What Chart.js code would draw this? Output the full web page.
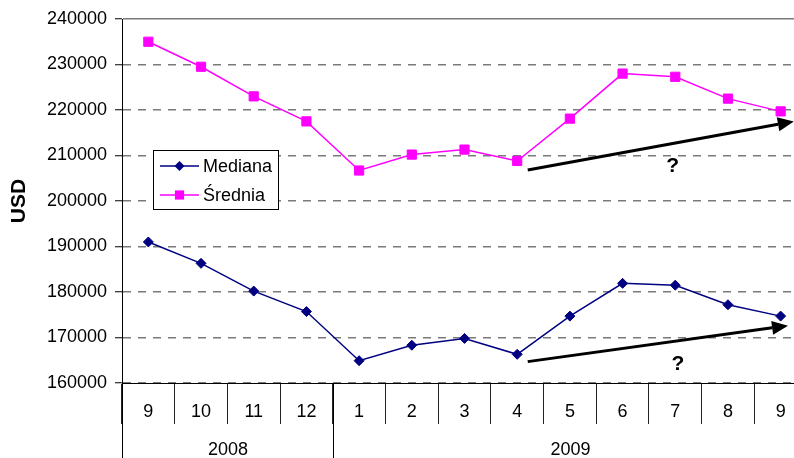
<!DOCTYPE html>
<html>
<head>
<meta charset="utf-8">
<title>Mediana i średnia cena</title>
<script src="https://cdn.jsdelivr.net/npm/chart.js@4"></script>
<style>
  html, body { margin: 0; padding: 0; background: #fff; overflow: hidden; }
  #wrap { width: 830px; height: 458px; }
</style>
</head>
<body>
<div id="wrap"><canvas id="priceChart" width="830" height="458"></canvas></div>
<script>
// months on the axis, grouped by year underneath
const months = ["9", "10", "11", "12", "1", "2", "3", "4", "5", "6", "7", "8", "9"];
const years = ["2008", "2009"];
const monthsPerYear = [4, 9];

const mediana = [191000, 186300, 180200, 175700, 164900, 168300, 169800, 166300, 174700, 181900, 181500, 177200, 174700];
const srednia = [235000, 229500, 223000, 217500, 206700, 210200, 211300, 208800, 218100, 228000, 227300, 222500, 219700];

// trend arrows (category index, USD) and the "?" beside them
const trendFrom = [[7.2, 206800], [7.2, 164700]];
const trendTo = [[12.25, 217500], [12.14, 172600]];
const trendMark = [[9.95, 207600], [10.05, 164100]];

const FONT = "'Liberation Sans', Arial, sans-serif";

const extras = {
    id: "extras",
    afterDraw(chart) {
        const { ctx, chartArea } = chart;
        const x = chart.scales.x, y = chart.scales.y;
        const half = (x.getPixelForValue(1) - x.getPixelForValue(0)) / 2;
        ctx.save();

        // year row
        ctx.strokeStyle = "#000";
        ctx.lineWidth = 1;
        ctx.fillStyle = "#000";
        ctx.font = "18px " + FONT;
        ctx.textAlign = "center";
        ctx.textBaseline = "middle";
        let start = 0;
        years.forEach((yr, i) => {
            const left = Math.round(x.getPixelForValue(start) - half) + 0.5;
            const right = Math.round(x.getPixelForValue(start + monthsPerYear[i] - 1) + half) + 0.5;
            ctx.beginPath();
            ctx.moveTo(left, chartArea.bottom);
            ctx.lineTo(left, chart.height);
            ctx.moveTo(right, chartArea.bottom);
            ctx.lineTo(right, chart.height);
            ctx.stroke();
            ctx.fillText(yr, (left + right) / 2, 450);
            start += monthsPerYear[i];
        });

        // trend arrows
        ctx.lineWidth = 3;
        trendFrom.forEach((p, i) => {
            const x1 = x.getPixelForValue(p[0]), y1 = y.getPixelForValue(p[1]);
            const x2 = x.getPixelForValue(trendTo[i][0]), y2 = y.getPixelForValue(trendTo[i][1]);
            const a = Math.atan2(y2 - y1, x2 - x1);
            const len = 16, w = 7;
            const bx = x2 - len * Math.cos(a), by = y2 - len * Math.sin(a);
            ctx.beginPath();
            ctx.moveTo(x1, y1);
            ctx.lineTo(bx, by);
            ctx.stroke();
            ctx.beginPath();
            ctx.moveTo(x2, y2);
            ctx.lineTo(bx + w * Math.sin(a), by - w * Math.cos(a));
            ctx.lineTo(bx - w * Math.sin(a), by + w * Math.cos(a));
            ctx.closePath();
            ctx.fill();
        });
        ctx.font = "bold 21px " + FONT;
        trendMark.forEach(p => {
            ctx.fillText("?", x.getPixelForValue(p[0]), y.getPixelForValue(p[1]));
        });

        // legend box
        const box = { left: 153.5, top: 150.5, width: 125, height: 59 };
        ctx.fillStyle = "#fff";
        ctx.fillRect(box.left, box.top, box.width, box.height);
        ctx.lineWidth = 1;
        ctx.strokeStyle = "#000";
        ctx.strokeRect(box.left, box.top, box.width, box.height);
        ctx.font = "18px " + FONT;
        ctx.textAlign = "left";
        chart.data.datasets.forEach((ds, i) => {
            const rowY = 166 + i * 29;
            ctx.strokeStyle = ds.borderColor;
            ctx.lineWidth = 1.5;
            ctx.beginPath();
            ctx.moveTo(160, rowY);
            ctx.lineTo(199, rowY);
            ctx.stroke();
            ctx.fillStyle = ds.borderColor;
            Chart.helpers.drawPoint(ctx, { pointStyle: ds.pointStyle, radius: ds.pointRadius, borderWidth: 0 }, 179.5, rowY);
            ctx.fillStyle = "#000";
            ctx.fillText(ds.label, 203, rowY + 1);
        });
        ctx.restore();
    }
};

new Chart(document.getElementById("priceChart"), {
    type: "line",
    data: {
        labels: months,
        datasets: [{
            label: "Mediana",
            data: mediana,
            borderColor: "#000080",
            backgroundColor: "#000080",
            borderWidth: 1.5,
            pointStyle: "rectRot",
            pointRadius: 5,
            pointBorderWidth: 1,
            tension: 0
        }, {
            label: "Średnia",
            data: srednia,
            borderColor: "#ff00ff",
            backgroundColor: "#ff00ff",
            borderWidth: 1.5,
            pointStyle: "rect",
            pointRadius: 6.5,
            pointBorderWidth: 1,
            tension: 0
        }]
    },
    options: {
        responsive: false,
        animation: false,
        layout: { padding: { top: 19, right: 23, left: 0, bottom: 0 } },
        plugins: { legend: { display: false }, tooltip: { enabled: false } },
        scales: {
            x: {
                offset: true,
                grid: { offset: true, drawOnChartArea: false, tickLength: 41, tickColor: "#222", tickWidth: 1 },
                border: { color: "#000" },
                ticks: { color: "#000", font: { family: FONT, size: 18 }, padding: -23, maxRotation: 0, autoSkip: false },
                afterFit(scale) { scale.height = 75; }
            },
            y: {
                min: 160000,
                max: 240000,
                ticks: {
                    stepSize: 10000,
                    color: "#000",
                    font: { family: FONT, size: 18 },
                    padding: 8,
                    callback: v => String(v)
                },
                grid: {
                    color: "#7a7a7a",
                    lineWidth: 1.5,
                    tickLength: 7,
                    tickColor: "#000",
                    tickWidth: 1
                },
                border: {
                    color: "#000",
                    dash: c => (c.tick && c.tick.value === 240000 ? [] : [8, 7])
                },
                title: {
                    display: true,
                    text: "USD",
                    color: "#000",
                    font: { family: FONT, size: 21, weight: "bold" },
                    padding: { top: 7, bottom: 0 }
                },
                afterFit(scale) { scale.width = 122; }
            }
        }
    },
    plugins: [extras]
});
</script>
</body>
</html>
